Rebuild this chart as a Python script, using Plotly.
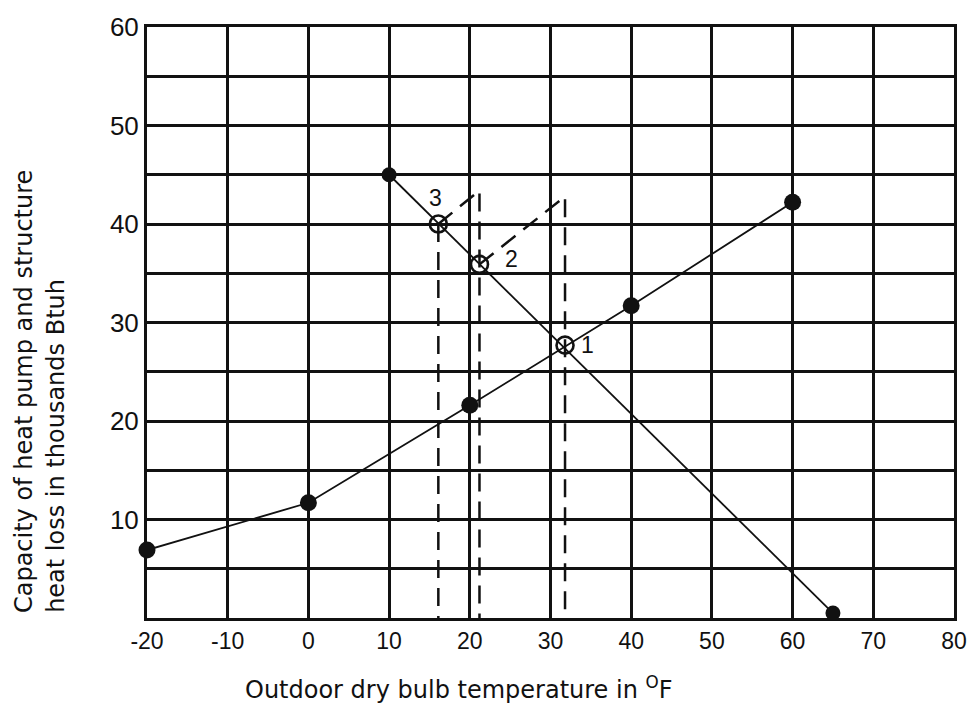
import plotly.graph_objects as go

# Outdoor temperature (deg F) and heat pump capacity (thousands Btuh)
pump_temp = [-20, 0, 20, 40, 60]
pump_capacity = [6.9, 11.7, 21.6, 31.7, 42.2]

# Structure heat loss line (thousands Btuh)
loss_temp = [10, 65]
loss_value = [45, 0.5]

# Balance points where capacity meets heat loss
balance_temp = [31.8, 21.2, 16.1]
balance_value = [27.7, 35.9, 40.0]
balance_label = ["1", "2", "3"]

# Dashed construction lines (None separates the pieces)
guide_temp = [16.1, 16.1, None, 16.1, 21.2, 21.2, None, 21.2, 31.8, 31.8]
guide_value = [40.0, 0, None, 40.0, 43.4, 0, None, 35.9, 42.8, 0]

# Axis ticks
x_tick_vals = [-20, -10, 0, 10, 20, 30, 40, 50, 60, 70, 80]
x_tick_text = ["-20", "-10", "0", "10", "20", "30", "40", "50", "60", "70", "80"]
y_tick_vals = [0, 5, 10, 15, 20, 25, 30, 35, 40, 45, 50, 55, 60]
y_tick_text = ["", "", "10", "", "20", "", "30", "", "40", "", "50", "", "60"]

x_title = "Outdoor dry bulb temperature in <sup>O</sup>F"
y_title_lines = ["Capacity of heat pump and structure", "heat loss in thousands Btuh"]

TICK_FONT = "Liberation Sans, Arial, sans-serif"
TITLE_FONT = "DejaVu Sans, sans-serif"
INK = "#111111"

fig = go.Figure()

fig.add_trace(go.Scatter(
    x=guide_temp, y=guide_value, mode="lines",
    line=dict(color=INK, width=2.5, dash="18px,10px"),
    hoverinfo="skip", cliponaxis=False,
))

fig.add_trace(go.Scatter(
    x=pump_temp, y=pump_capacity, mode="lines+markers",
    line=dict(color=INK, width=1.8),
    marker=dict(size=17, color=INK),
    cliponaxis=False, name="Heat pump capacity",
))

fig.add_trace(go.Scatter(
    x=loss_temp, y=loss_value, mode="lines+markers",
    line=dict(color=INK, width=1.8),
    marker=dict(size=15, color=INK),
    cliponaxis=False, name="Structure heat loss",
))

fig.add_trace(go.Scatter(
    x=balance_temp, y=balance_value, mode="markers",
    marker=dict(size=17, symbol="circle-open", color=INK, line=dict(width=2.6)),
    cliponaxis=False, name="Balance points",
))

# Number each balance point (pixel offsets from the point)
label_shift = [(22, 0), (32, 5), (-3, 26)]
for x, y, t, (dx, dy) in zip(balance_temp, balance_value, balance_label, label_shift):
    fig.add_annotation(x=x, y=y, text=t, showarrow=False, xshift=dx, yshift=dy,
                       font=dict(family=TICK_FONT, size=23, color=INK))

# Axis titles
fig.add_annotation(xref="paper", yref="paper", x=0.387, y=-0.119,
                   xanchor="center", yanchor="middle", showarrow=False,
                   text=x_title, font=dict(family=TITLE_FONT, size=24, color=INK))
for xpos, line in zip([-0.153, -0.113], y_title_lines):
    fig.add_annotation(xref="paper", yref="paper", x=xpos, y=0.005,
                       xanchor="center", yanchor="bottom", textangle=-90,
                       showarrow=False, text=line,
                       font=dict(family=TITLE_FONT, size=24, color=INK))

axis_common = dict(
    showline=True, linecolor=INK, linewidth=3, mirror=True,
    showgrid=True, gridcolor=INK, gridwidth=2.7,
    zeroline=False, ticks="",
)

fig.update_xaxes(
    range=[-20, 80], tickvals=x_tick_vals, ticktext=x_tick_text,
    tickfont=dict(family=TICK_FONT, size=23, color=INK),
    **axis_common,
)
fig.update_yaxes(
    range=[0, 60], tickvals=y_tick_vals, ticktext=y_tick_text,
    tickfont=dict(family=TICK_FONT, size=26, color=INK),
    **axis_common,
)

fig.update_layout(
    width=979, height=712,
    margin=dict(l=147, r=16, t=20, b=94),
    paper_bgcolor="white", plot_bgcolor="white",
    showlegend=False,
)

fig.write_html("out.html")
